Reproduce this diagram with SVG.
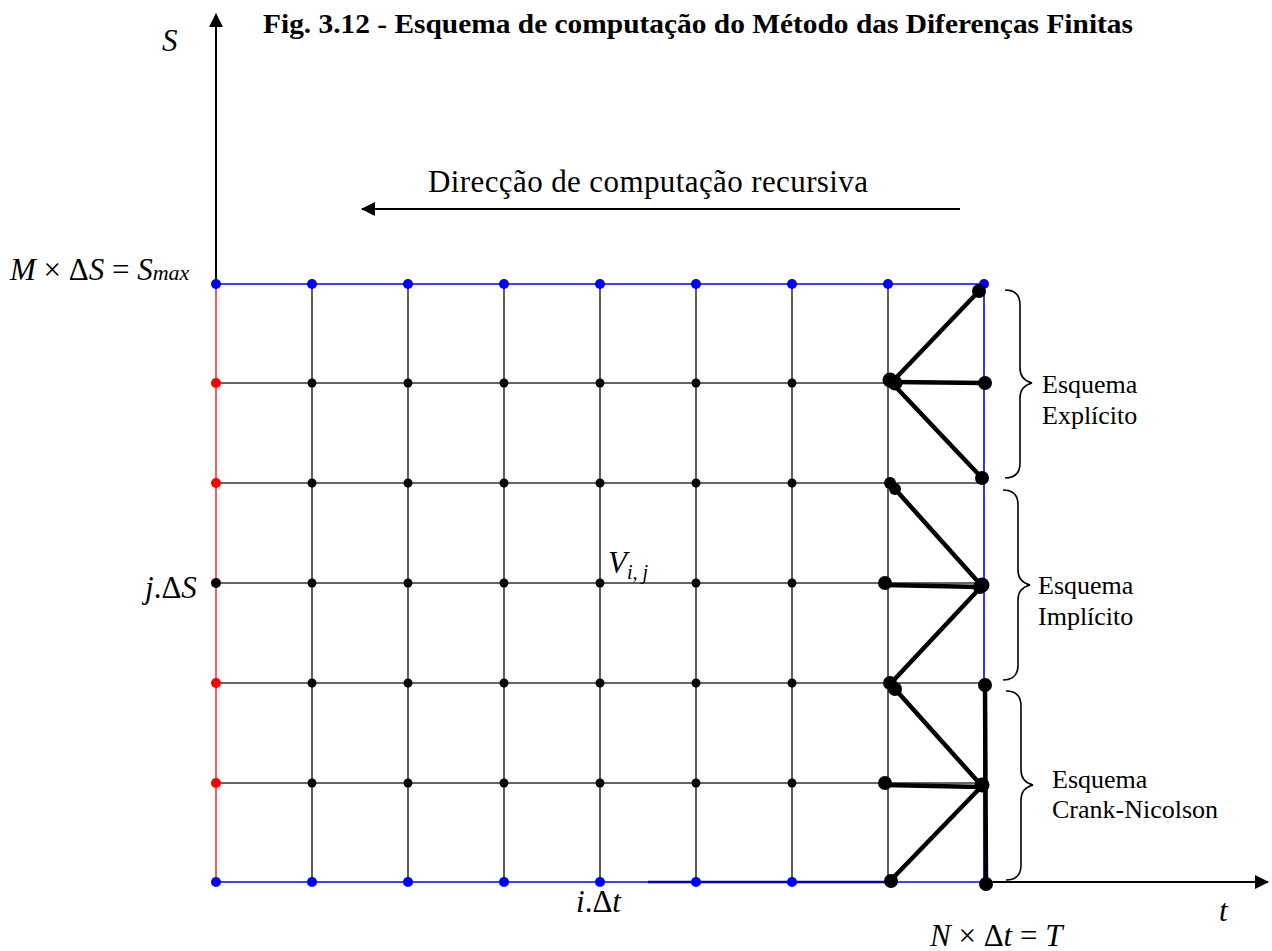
<svg xmlns="http://www.w3.org/2000/svg" width="1272" height="951" viewBox="0 0 1272 951">
<style>
text{font-family:"Liberation Serif","DejaVu Serif",serif;fill:#000}
.it{font-style:italic}
.g{stroke:#333;stroke-width:1.6;fill:none}
.blue{stroke:#0000ff;stroke-width:1.6;fill:none}
.red{stroke:#ff3030;stroke-width:1.6;fill:none}
.ax{stroke:#000;stroke-width:2;fill:none}
.th{stroke:#000;stroke-width:4.5;fill:none;stroke-linecap:round}
.br{stroke:#000;stroke-width:1.6;fill:none}
.db{fill:#0000ff}
.dr{fill:#ff0000}
.dk{fill:#000}
.lab{font-size:26px}
.m{font-size:31px}
</style>
<defs>
<marker id="ah2" markerWidth="14" markerHeight="14" refX="13" refY="7" orient="auto" markerUnits="userSpaceOnUse" viewBox="0 0 14 14">
<path d="M0,0 L14,7 L0,14 z" fill="#000"/>
</marker>
</defs>
<g id="title"><text x="263" y="33" font-weight="bold" font-size="28" textLength="870" lengthAdjust="spacingAndGlyphs">Fig. 3.12 - Esquema de computação do Método das Diferenças Finitas</text></g>
<g id="axes">
<line class="ax" x1="216" y1="284" x2="216" y2="14" marker-end="url(#ah2)"/>
<line class="ax" x1="984" y1="882" x2="1268" y2="882" marker-end="url(#ah2)"/>
<line class="ax" x1="960" y1="209" x2="362" y2="209" marker-end="url(#ah2)"/>
</g>
<g id="grid">
<g class="g">
<line x1="312" y1="284" x2="312" y2="882"/><line x1="408" y1="284" x2="408" y2="882"/><line x1="504" y1="284" x2="504" y2="882"/><line x1="600" y1="284" x2="600" y2="882"/><line x1="696" y1="284" x2="696" y2="882"/><line x1="792" y1="284" x2="792" y2="882"/><line x1="888" y1="284" x2="888" y2="882"/>
<line x1="216" y1="383" x2="984" y2="383"/><line x1="216" y1="483" x2="984" y2="483"/><line x1="216" y1="583" x2="984" y2="583"/><line x1="216" y1="683" x2="984" y2="683"/><line x1="216" y1="783" x2="984" y2="783"/>
</g>
<line class="red" x1="216" y1="284" x2="216" y2="882"/>
<line class="blue" x1="216" y1="284" x2="984" y2="284"/>
<line class="blue" x1="216" y1="882" x2="984" y2="882"/>
<line x1="648" y1="882" x2="888" y2="882" stroke="#0000c0" stroke-width="2.4"/>
<line class="blue" x1="984" y1="284" x2="984" y2="882"/>
</g>
<g id="nodes-top">
<circle class="db" cx="216" cy="284" r="5"/><circle class="db" cx="312" cy="284" r="5"/><circle class="db" cx="408" cy="284" r="5"/><circle class="db" cx="504" cy="284" r="5"/><circle class="db" cx="600" cy="284" r="5"/><circle class="db" cx="696" cy="284" r="5"/><circle class="db" cx="792" cy="284" r="5"/><circle class="db" cx="888" cy="284" r="5"/><circle class="db" cx="984" cy="284" r="5"/>
</g>
<g id="nodes-bottom">
<circle class="db" cx="216" cy="882" r="5"/><circle class="db" cx="312" cy="882" r="5"/><circle class="db" cx="408" cy="882" r="5"/><circle class="db" cx="504" cy="882" r="5"/><circle class="db" cx="600" cy="882" r="5"/><circle class="db" cx="696" cy="882" r="5"/><circle class="db" cx="792" cy="882" r="5"/>
</g>
<g id="nodes-left">
<circle class="dr" cx="216" cy="383" r="5"/><circle class="dr" cx="216" cy="483" r="5"/><circle class="dk" cx="216" cy="583" r="5"/><circle class="dr" cx="216" cy="683" r="5"/><circle class="dr" cx="216" cy="783" r="5"/>
</g>
<g id="nodes-interior" class="dk">
<circle cx="312" cy="383" r="4.5"/><circle cx="408" cy="383" r="4.5"/><circle cx="504" cy="383" r="4.5"/><circle cx="600" cy="383" r="4.5"/><circle cx="696" cy="383" r="4.5"/><circle cx="792" cy="383" r="4.5"/>
<circle cx="312" cy="483" r="4.5"/><circle cx="408" cy="483" r="4.5"/><circle cx="504" cy="483" r="4.5"/><circle cx="600" cy="483" r="4.5"/><circle cx="696" cy="483" r="4.5"/><circle cx="792" cy="483" r="4.5"/>
<circle cx="312" cy="583" r="4.5"/><circle cx="408" cy="583" r="4.5"/><circle cx="504" cy="583" r="4.5"/><circle cx="600" cy="583" r="4.5"/><circle cx="696" cy="583" r="4.5"/><circle cx="792" cy="583" r="4.5"/>
<circle cx="312" cy="683" r="4.5"/><circle cx="408" cy="683" r="4.5"/><circle cx="504" cy="683" r="4.5"/><circle cx="600" cy="683" r="4.5"/><circle cx="696" cy="683" r="4.5"/><circle cx="792" cy="683" r="4.5"/>
<circle cx="312" cy="783" r="4.5"/><circle cx="408" cy="783" r="4.5"/><circle cx="504" cy="783" r="4.5"/><circle cx="600" cy="783" r="4.5"/><circle cx="696" cy="783" r="4.5"/><circle cx="792" cy="783" r="4.5"/>
</g>
<g id="scheme-connectors">
<line class="th" x1="893" y1="381" x2="979" y2="291"/>
<line class="th" x1="893" y1="382" x2="985" y2="383"/>
<line class="th" x1="893" y1="384" x2="982" y2="478"/>
<line class="th" x1="895" y1="489" x2="981" y2="585"/>
<line class="th" x1="885" y1="585" x2="981" y2="587"/>
<line class="th" x1="981" y1="587" x2="892" y2="682"/>
<line class="th" x1="895" y1="689" x2="981" y2="785"/>
<line class="th" x1="885" y1="785" x2="981" y2="787"/>
<line class="th" x1="981" y1="787" x2="891" y2="880"/>
<line class="th" x1="985" y1="685" x2="986" y2="884"/>
</g>
<g id="scheme-nodes" class="dk">
<circle cx="979" cy="291" r="7"/>
<circle cx="890" cy="380" r="7.5"/><circle cx="895" cy="383" r="7.5"/><circle cx="985" cy="383" r="7"/>
<circle cx="982" cy="478" r="7"/>
<circle cx="890" cy="483" r="6"/><circle cx="895" cy="489" r="6"/>
<circle cx="885" cy="583" r="7"/><circle cx="982" cy="585" r="7.5"/><circle cx="980" cy="587" r="7"/>
<circle cx="890" cy="683" r="7"/><circle cx="895" cy="689" r="7"/><circle cx="985" cy="685" r="7"/>
<circle cx="885" cy="783" r="7"/><circle cx="982" cy="785" r="7.5"/>
<circle cx="891" cy="881" r="7"/><circle cx="986" cy="884" r="7"/>
</g>
<g id="braces">
<path class="br" d="M1005,290 Q1020,290 1020,305 L1020,368 Q1020,380 1032,383 Q1020,386 1020,398 L1020,463 Q1020,478 1005,478"/>
<path class="br" d="M1003,490 Q1018,490 1018,505 L1018,570 Q1018,582 1030,585 Q1018,588 1018,600 L1018,665 Q1018,680 1003,680"/>
<path class="br" d="M1006,691 Q1021,691 1021,706 L1021,770 Q1021,782 1033,785 Q1021,788 1021,800 L1021,865 Q1021,880 1006,880"/>
</g>
<g id="labels">
<text x="428" y="192" font-size="31" textLength="440">Direcção de computação recursiva</text>
<text x="1042" y="393" class="lab">Esquema</text>
<text x="1042" y="424" class="lab">Explícito</text>
<text x="1038" y="594" class="lab">Esquema</text>
<text x="1038" y="625" class="lab">Implícito</text>
<text x="1052" y="788" class="lab">Esquema</text>
<text x="1052" y="818" class="lab">Crank-Nicolson</text>
<text x="162" y="51" class="m it">S</text>
<text x="10" y="280" class="m"><tspan class="it">M</tspan> × Δ<tspan class="it">S</tspan> =  <tspan class="it">S</tspan><tspan class="it" font-size="22">max</tspan></text>
<text x="145" y="598" class="m"><tspan class="it">j</tspan>.Δ<tspan class="it">S</tspan></text>
<text x="608" y="573" class="m it">V<tspan font-size="20" dy="6">i, j</tspan></text>
<text x="576" y="912" class="m"><tspan class="it">i</tspan>.Δ<tspan class="it">t</tspan></text>
<text x="1219" y="921" class="m it">t</text>
<text x="930" y="946" class="m"><tspan class="it">N</tspan> × Δ<tspan class="it">t</tspan> = <tspan class="it">T</tspan></text>
</g>
</svg>
